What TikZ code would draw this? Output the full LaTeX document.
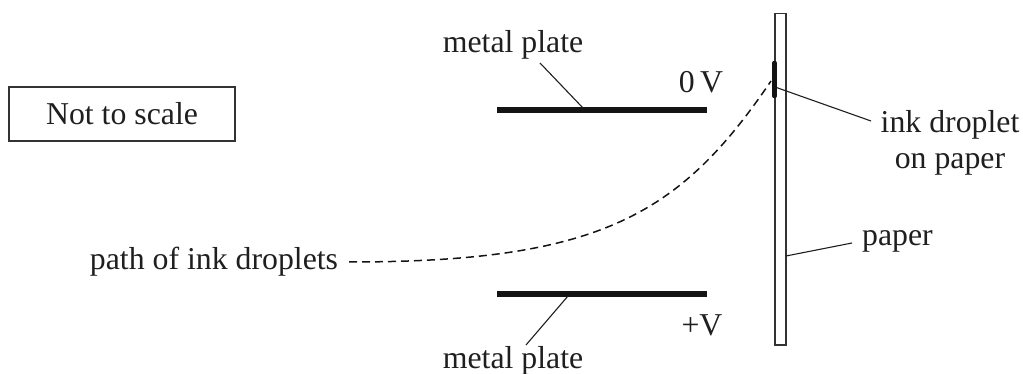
\documentclass[tikz,border=0pt]{standalone}
\usepackage{fontspec}
\setmainfont{Liberation Serif}
\tikzset{lbl/.style={inner sep=0pt,font=\fontsize{31.8}{36}\selectfont,align=center,text=black!88},
plate/.style={line width=5.5pt,line cap=butt,draw=black!92},
lead/.style={line width=1.1pt,draw=black!88},
outline/.style={line width=1.5pt,draw=black!80}}
\begin{document}
\begin{tikzpicture}[x=1pt,y=-1pt]
\useasboundingbox (0,0) rectangle (1023,374);
\node[outline,draw,minimum width=226,minimum height=54,inner sep=0pt,font=\fontsize{31.8}{36}\selectfont,text=black!88] (box) at (122,114) {Not to scale};
\coordinate (p1a) at (497,110);\coordinate (p1b) at (707,110);
\coordinate (p2a) at (497,294);\coordinate (p2b) at (707,294);
\draw[plate] (p1a)--(p1b);
\draw[plate] (p2a)--(p2b);
\node[lbl] (mp1) at (513,45) {metal plate};
\node[lbl] (mp2) at (513,361) {metal plate};
\node[lbl] (zero) at (701,82) {0\,V};
\node[lbl] (plus) at (702,325) {+V};
\node[lbl] (path) at (214,261.5) {path of ink droplets};
\node[lbl] (id) at (950,142.5) {ink droplet\\on paper};
\node[lbl] (pap) at (897.5,241.5) {paper};
\node[outline,draw,fill=white,minimum width=11,minimum height=331.5,inner sep=0pt] (sheet) at (780.5,179.25) {};
\draw[lead] (540,63)--(583,108);
\draw[lead] (568,296)--(526,345);
\draw[lead] (775,87)--(871,121);
\draw[lead] (786,256)--(852,243);
\draw[line width=4.6pt,line cap=round,draw=black!92] (774.5,63)--(774.5,96);
\draw[line width=1.5pt,draw=black!92,dash pattern=on 8pt off 5pt] (349,262) .. controls (600,262) and (680,215) .. (771,81);
\end{tikzpicture}
\end{document}
